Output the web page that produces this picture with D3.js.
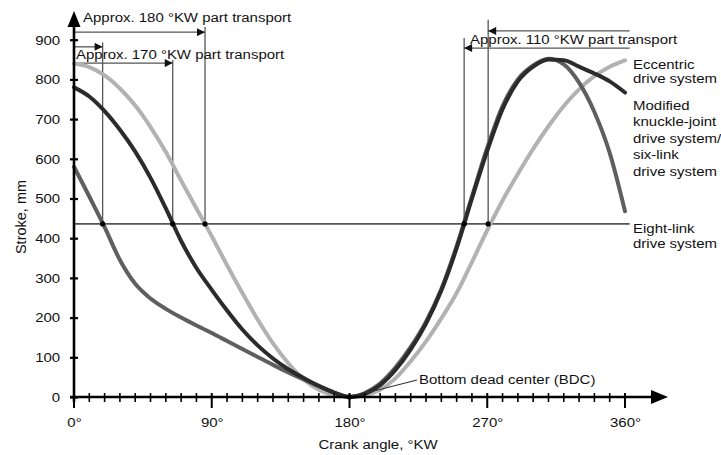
<!DOCTYPE html>
<html><head><meta charset="utf-8">
<script src="https://cdn.jsdelivr.net/npm/d3@7"></script>
<style>
html,body{margin:0;padding:0;background:#fff;}
svg{display:block;font-family:"Liberation Sans",Arial,Helvetica,sans-serif;}
</style></head>
<body><svg id="c" width="721" height="455"></svg>
<script>
// ---- data ----
const crankAngle = [0,10,20,30,40,50,60,70,80,90,100,110,120,130,140,150,160,170,180,190,200,210,220,230,240,250,260,270,280,290,300,310,320,330,340,350,360];
const eccentricStroke = [840,831,810,777,734,680,617,545,475,405,332,262,195,135,85,45,18,4,0,4,18,47,90,140,198,262,340,420,495,562,625,682,733,775,808,832,848];
const modifiedStroke  = [780,757,720,673,618,552,475,393,325,270,218,170,130,97,70,48,28,11,0,8,30,68,120,185,268,375,500,620,725,795,832,850,848,832,815,795,767];
const eightLinkStroke = [580,505,428,345,285,248,222,200,180,161,141,121,101,81,62,44,27,11,0,10,34,74,126,190,272,380,505,628,733,800,835,852,838,792,718,615,468];
const yTicks = [0,100,200,300,400,500,600,700,800,900];
const xMajorTicks = [0,90,180,270,360];
const xMinorTicks = [0,10,20,30,40,50,60,70,80,90,100,110,120,130,140,150,160,170,180,190,200,210,220,230,240,250,260,270,280,290,300,310,320,330,340,350,360];
const transportLevel = 436;
const crossAngles = [18.7, 64.5, 85.6, 254.9, 270.6];
const crossTops   = [893, 849, 932, 904, 950];
const leftArrowEnds   = [85.6, 18.7, 64.5];
const leftArrowLevels = [919, 882, 841];
const rightArrowEnds   = [270.6, 254.9];
const rightArrowLevels = [922, 879];
const annotationEnd = 363;
const seriesNames = ["Eccentric drive system","Modified knuckle-joint drive system/six-link drive system","Eight-link drive system"];

// ---- chart ----
const svg = d3.select("#c");
const x = d3.scaleLinear().domain([0,360]).range([74,625]);
const y = d3.scaleLinear().domain([0,900]).range([397,39.7]);
const FS = 13.5, SX = 1.11;

svg.append("defs").append("marker")
  .attr("id","ah").attr("viewBox","0 0 10 10").attr("refX",10).attr("refY",5)
  .attr("markerWidth",9).attr("markerHeight",8).attr("markerUnits","userSpaceOnUse")
  .attr("orient","auto-start-reverse")
  .append("path").attr("d","M0,0L10,5L0,10Z").attr("fill","#111");

function label(px, py, str, anchor="start", size=FS){
  const g = svg.append("g").attr("transform",`translate(${px},${py}) scale(${SX},1)`);
  g.append("text").attr("x",0).attr("y",0).attr("text-anchor",anchor)
    .attr("font-size",size).attr("fill","#111").text(str);
  return g;
}

// annotation lines (behind curves)
const ann = svg.append("g").attr("stroke","#555").attr("stroke-width",1.3).attr("fill","none");
ann.append("line").attr("x1",x(0)).attr("x2",x(annotationEnd))
  .attr("y1",y(transportLevel)).attr("y2",y(transportLevel)).attr("stroke-width",1.6);
crossAngles.forEach((a,i)=>{
  ann.append("line").attr("x1",x(a)).attr("x2",x(a)).attr("y1",y(crossTops[i])).attr("y2",y(transportLevel));
});
leftArrowEnds.forEach((a,i)=>{
  ann.append("line").attr("x1",x(0)).attr("x2",x(a)).attr("y1",y(leftArrowLevels[i])).attr("y2",y(leftArrowLevels[i]))
    .attr("marker-end","url(#ah)");
});
rightArrowEnds.forEach((a,i)=>{
  ann.append("line").attr("x1",x(annotationEnd)).attr("x2",x(a)).attr("y1",y(rightArrowLevels[i])).attr("y2",y(rightArrowLevels[i]))
    .attr("marker-end","url(#ah)");
});

// curves
const line = d3.line().x((d,i)=>x(crankAngle[i])).y(d=>y(d)).curve(d3.curveMonotoneX);
const series = [
  {name:seriesNames[0], v:eccentricStroke, c:"#b2b2b2"},
  {name:seriesNames[2], v:eightLinkStroke, c:"#5f5f5f"},
  {name:seriesNames[1], v:modifiedStroke,  c:"#2b2b2b"}
];
svg.append("g").selectAll("path").data(series).join("path")
  .attr("d",d=>line(d.v)).attr("fill","none").attr("stroke",d=>d.c)
  .attr("stroke-width",4).attr("stroke-linecap","round").attr("stroke-linejoin","round");

// dots
svg.append("g").selectAll("circle").data(crossAngles).join("circle")
  .attr("cx",d=>x(d)).attr("cy",y(transportLevel)).attr("r",2.6).attr("fill","#000");
svg.append("circle").attr("cx",x(180)).attr("cy",y(0)).attr("r",2.6).attr("fill","#000");

// axes
const yAxis = d3.axisLeft(y).tickValues(yTicks).tickSize(4).tickPadding(0);
const gy = svg.append("g").attr("transform",`translate(${x(0)},0)`).call(yAxis);
gy.select(".domain").remove();
gy.selectAll(".tick line").attr("x1",-4).attr("x2",4).attr("stroke","#000").attr("stroke-width",2.2);
gy.selectAll(".tick text").attr("x",-12.5).attr("font-size",FS).attr("fill","#111")
  .attr("font-family","Liberation Sans, Arial, sans-serif").attr("transform",`scale(${SX},1)`);

const xAxis = d3.axisBottom(x).tickValues(xMajorTicks).tickSize(0).tickFormat(d=>d+"°");
const gx = svg.append("g").attr("transform",`translate(0,${y(0)})`).call(xAxis);
gx.select(".domain").remove();
gx.selectAll(".tick text").attr("y",20).attr("font-size",FS).attr("fill","#111")
  .attr("font-family","Liberation Sans, Arial, sans-serif").attr("transform",`scale(${SX},1)`);

svg.append("g").selectAll("line").data(xMinorTicks).join("line")
  .attr("x1",d=>x(d)).attr("x2",d=>x(d))
  .attr("y1",y(0)-4).attr("y2",d=>xMajorTicks.includes(d)? y(0)+11 : y(0)+5)
  .attr("stroke","#000").attr("stroke-width",d=>xMajorTicks.includes(d)?2:1.6);

// axis main lines with arrows
svg.append("line").attr("x1",x(0)).attr("x2",x(0)).attr("y1",y(0)+5).attr("y2",25)
  .attr("stroke","#000").attr("stroke-width",2.6);
svg.append("path").attr("d",`M${x(0)},11L${x(0)-6.5},27L${x(0)+6.5},27Z`).attr("fill","#000");
svg.append("line").attr("x1",x(0)-4).attr("x2",654).attr("y1",y(0)).attr("y2",y(0))
  .attr("stroke","#000").attr("stroke-width",2.6);
svg.append("path").attr("d",`M668,${y(0)}L651,${y(0)-7}L651,${y(0)+7}Z`).attr("fill","#000");

// axis titles
label(378, 449, "Crank angle, °KW", "middle");
svg.append("text").attr("transform","translate(26,217) rotate(-90)").attr("text-anchor","middle")
  .attr("font-size",14.5).attr("fill","#111").text("Stroke, mm");

// annotation texts
label(83, 22, "Approx. 180 °KW part transport");
label(76, 59, "Approx. 170 °KW part transport");
label(470, 44, "Approx. 110 °KW part transport");

// BDC
svg.append("line").attr("x1",417).attr("y1",380).attr("x2",366).attr("y2",393)
  .attr("stroke","#333").attr("stroke-width",1.2);
label(419, 384, "Bottom dead center (BDC)");

// series labels
label(633, 69, "Eccentric");
label(633, 83, "drive system");
["Modified","knuckle-joint","drive system/","six-link","drive system"].forEach((t,i)=>label(633,110+i*16.4,t));
label(633, 233, "Eight-link");
label(633, 248, "drive system");
</script></body></html>
